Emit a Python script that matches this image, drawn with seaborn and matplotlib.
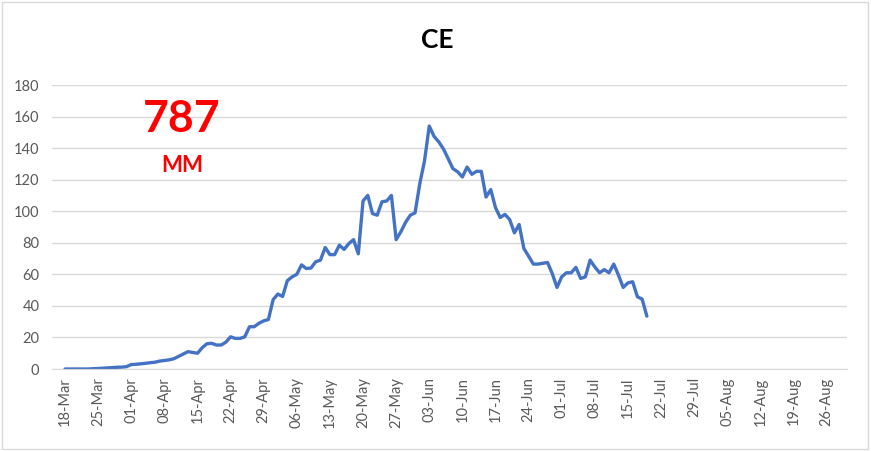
import pandas as pd
import numpy as np
import matplotlib
matplotlib.use('Agg')
import matplotlib.pyplot as plt
import matplotlib.dates as mdates
from matplotlib.patches import Rectangle
import seaborn as sns

# valores diarios (desde 18-Mar)
start_date = '2020-03-18'
valores = [
    0, 0, 0, 0, 0, 0, 0.2, 0.3, 0.5, 0.7,
    0.9, 1.1, 1.2, 1.5, 2.8, 3.0, 3.3, 3.6, 4.0, 4.3,
    5.0, 5.4, 5.8, 6.5, 8.0, 9.5, 11.0, 10.5, 10.0, 13.5,
    16.0, 16.3, 15.2, 15.2, 17.0, 20.4, 19.4, 19.4, 20.4, 26.8,
    26.8, 29.0, 30.5, 31.4, 44.0, 47.5, 46.0, 56.0, 58.4, 60.0,
    66.0, 63.7, 64.0, 68.0, 69.0, 77.0, 72.5, 72.5, 78.5, 75.8,
    79.5, 82.0, 73.0, 106.5, 110.0, 98.5, 97.5, 106.0, 106.5, 110.0,
    82.0, 87.0, 93.0, 97.5, 99.0, 117.5, 132.0, 154.0, 147.5, 144.0,
    139.5, 133.3, 127.0, 125.0, 121.7, 128.0, 123.4, 125.3, 125.3, 109.0,
    113.7, 102.3, 96.0, 98.0, 94.7, 86.3, 91.6, 76.4, 71.5, 66.5,
    66.5, 67.0, 67.5, 60.5, 51.7, 58.4, 61.0, 61.0, 64.4, 57.4,
    58.4, 69.0, 64.7, 61.0, 63.0, 61.0, 66.5, 59.5, 51.7, 54.6,
    55.3, 45.8, 44.3, 33.5,
]
titulo = 'CE'
total_txt = '787'
unidad_txt = 'MM'
y_ticks = [0, 20, 40, 60, 80, 100, 120, 140, 160, 180]
tick_end = '2020-08-26'

df = pd.DataFrame({
    'fecha': pd.date_range(start=start_date, periods=len(valores), freq='D'),
    'valor': valores,
})

sns.set_style('white')
plt.rcParams['font.family'] = ['Lato', 'DejaVu Sans']

fig = plt.figure(figsize=(8.71, 4.51), dpi=100)
ax = fig.add_axes([0.0597, 0.1818, 0.9127, 0.6297])

sns.lineplot(data=df, x='fecha', y='valor', ax=ax, color='#4472C4', linewidth=2.4)

# ejes
t0 = pd.Timestamp(start_date)
ax.set_xlim(t0 - pd.Timedelta(days=2.75), t0 + pd.Timedelta(days=165.3))
ax.set_ylim(0, 180)
ax.set_yticks(y_ticks)
ax.set_xticks(pd.date_range(start=start_date, end=tick_end, freq='7D'))
ax.xaxis.set_major_formatter(mdates.DateFormatter('%d-%b'))
ax.tick_params(axis='x', rotation=90, labelsize=10.5, colors='#595959', length=0, pad=6)
ax.tick_params(axis='y', labelsize=10.5, colors='#595959', length=0, pad=9)
ax.set_xlabel('')
ax.set_ylabel('')
ax.grid(axis='y', color='#D9D9D9', linewidth=1)
ax.set_axisbelow(True)
for s in ['top', 'right', 'left']:
    ax.spines[s].set_visible(False)
ax.spines['bottom'].set_color('#D9D9D9')

# textos
fig.text(0.502, 0.911, titulo, ha='center', va='center', fontsize=19, fontweight='bold', color='black')
fig.text(0.209, 0.736, total_txt, ha='center', va='center', fontsize=32, fontweight='bold', color='#FF0000')
fig.text(0.209, 0.632, unidad_txt, ha='center', va='center', fontsize=16, fontweight='bold', color='#FF0000')

# borde del grafico
fig.patches.append(Rectangle((0.002, 0.004), 0.994, 0.992, transform=fig.transFigure,
                             fill=False, edgecolor='#D9D9D9', linewidth=1))

plt.savefig('out.png', dpi=100)
